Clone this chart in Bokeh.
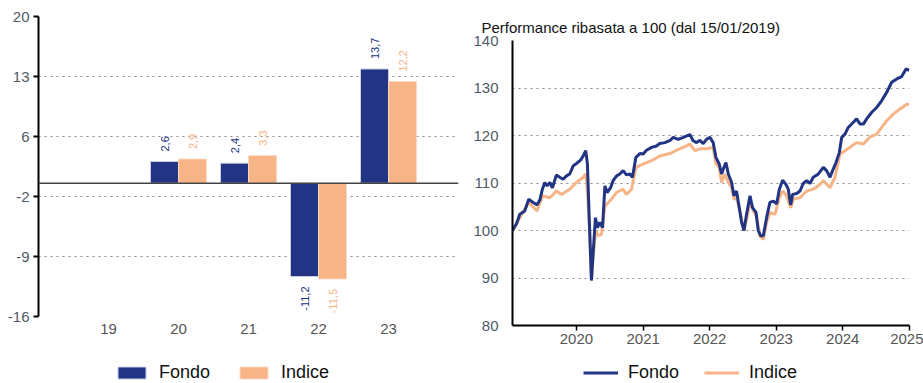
import math
import numpy as np
import pandas as pd
from bokeh.plotting import figure
from bokeh.layouts import row, column
from bokeh.models import (ColumnDataSource, FixedTicker, Range1d, Span, Legend, LegendItem,
                          DatetimeTickFormatter)
from bokeh.core.properties import value
from bokeh.embed import file_html
from bokeh.resources import INLINE

# ---------------- data: annual performance (bar chart) ----------------
bar_years = ["19", "20", "21", "22", "23"]
fondo_bar = [float("nan"), 2.6, 2.4, -11.2, 13.7]
indice_bar = [float("nan"), 2.9, 3.3, -11.5, 12.2]
left_y_ticks = [20, 12.8, 5.6, -1.6, -8.8, -16]
left_y_labels = ["20", "13", "6", "-2", "-9", "-16"]

# ---------------- data: performance rebased to 100 (line chart) ----------------
fondo_dates = ["2019-01-15", "2019-02-06", "2019-02-24", "2019-03-23", "2019-04-14", "2019-05-08",
               "2019-05-30", "2019-06-14", "2019-06-28", "2019-07-11", "2019-07-24", "2019-08-08",
               "2019-08-22", "2019-09-13", "2019-10-01", "2019-10-20", "2019-11-07", "2019-11-25",
               "2019-12-14", "2020-01-01", "2020-01-23", "2020-02-07", "2020-02-21", "2020-03-01",
               "2020-03-14", "2020-03-23", "2020-04-01", "2020-04-14", "2020-04-25", "2020-05-08",
               "2020-05-23", "2020-06-05", "2020-06-17", "2020-07-06", "2020-07-20", "2020-08-08",
               "2020-08-26", "2020-09-13", "2020-10-01", "2020-10-20", "2020-11-03", "2020-11-22",
               "2020-12-14", "2021-01-01", "2021-01-19", "2021-02-16", "2021-03-15", "2021-04-02",
               "2021-04-30", "2021-05-27", "2021-06-15", "2021-07-12", "2021-08-09", "2021-09-14",
               "2021-10-02", "2021-10-21", "2021-11-08", "2021-11-26", "2021-12-15", "2022-01-02",
               "2022-01-20", "2022-02-04", "2022-02-22", "2022-03-07", "2022-03-20", "2022-03-31",
               "2022-04-13", "2022-05-01", "2022-05-14", "2022-05-28", "2022-06-12", "2022-06-25",
               "2022-07-08", "2022-07-22", "2022-08-10", "2022-08-24", "2022-09-12", "2022-09-24",
               "2022-10-07", "2022-10-22", "2022-11-09", "2022-11-27", "2022-12-16", "2023-01-03",
               "2023-01-18", "2023-02-05", "2023-02-23", "2023-03-08", "2023-03-21", "2023-04-01",
               "2023-04-23", "2023-05-11", "2023-05-29", "2023-06-17", "2023-07-05", "2023-07-23",
               "2023-08-20", "2023-09-16", "2023-10-04", "2023-10-23", "2023-11-06", "2023-11-25",
               "2023-12-13", "2023-12-26", "2024-01-13", "2024-01-31", "2024-02-28", "2024-03-17",
               "2024-04-05", "2024-04-23", "2024-05-11", "2024-06-08", "2024-07-05", "2024-08-01",
               "2024-08-29", "2024-09-25", "2024-10-23", "2024-11-19", "2024-12-13", "2024-12-31"]
fondo_values = [100.0, 101.4, 103.4, 104.1, 106.6, 105.9,
                105.4, 106.4, 108.7, 110.1, 109.4, 110.1,
                109.0, 111.7, 111.2, 110.8, 111.5, 111.9,
                113.6, 114.1, 114.8, 115.7, 116.8, 114.0,
                99.2, 89.5, 95.0, 102.7, 100.6, 101.7,
                100.6, 109.4, 108.0, 109.0, 110.5, 111.5,
                111.9, 112.6, 111.7, 111.9, 111.2, 115.4,
                116.2, 116.1, 116.9, 117.5, 117.8, 118.3,
                118.5, 118.9, 119.6, 119.2, 119.6, 120.2,
                118.9, 118.5, 119.0, 118.3, 119.2, 119.6,
                118.5, 115.4, 114.0, 111.9, 113.3, 114.3,
                111.9, 110.1, 107.3, 108.3, 104.8, 101.7,
                100.0, 103.4, 107.3, 104.8, 103.8, 100.0,
                98.9, 98.9, 102.7, 105.9, 106.2, 105.6,
                108.7, 110.6, 109.7, 108.7, 105.4, 107.6,
                107.8, 108.3, 109.9, 110.5, 109.9, 111.2,
                111.9, 113.3, 112.6, 111.2, 112.6, 114.3,
                116.4, 119.6, 120.3, 121.7, 122.8, 123.5,
                122.4, 122.4, 123.5, 124.9, 125.9, 127.3,
                129.1, 131.2, 131.9, 132.4, 134.0, 133.7]

indice_dates = ["2019-01-15", "2019-02-24", "2019-04-14", "2019-05-30", "2019-06-28", "2019-08-08",
                "2019-09-13", "2019-10-11", "2019-11-25", "2020-01-01", "2020-02-07", "2020-02-21",
                "2020-03-01", "2020-03-14", "2020-03-23", "2020-04-01", "2020-04-16", "2020-04-29",
                "2020-05-17", "2020-06-05", "2020-07-02", "2020-08-08", "2020-09-13", "2020-10-01",
                "2020-10-29", "2020-11-22", "2021-01-01", "2021-02-16", "2021-04-02", "2021-05-27",
                "2021-07-03", "2021-08-09", "2021-09-14", "2021-10-12", "2021-11-08", "2021-12-15",
                "2022-01-20", "2022-02-04", "2022-02-22", "2022-03-07", "2022-03-25", "2022-04-13",
                "2022-05-01", "2022-05-14", "2022-05-28", "2022-06-16", "2022-07-08", "2022-07-26",
                "2022-08-10", "2022-08-28", "2022-09-15", "2022-10-03", "2022-10-22", "2022-11-09",
                "2022-11-27", "2022-12-25", "2023-01-18", "2023-02-05", "2023-02-23", "2023-03-21",
                "2023-04-05", "2023-05-11", "2023-06-17", "2023-07-23", "2023-08-29", "2023-09-16",
                "2023-10-23", "2023-11-19", "2023-12-17", "2024-01-13", "2024-02-19", "2024-03-17",
                "2024-04-23", "2024-05-29", "2024-07-05", "2024-08-01", "2024-08-29", "2024-10-04",
                "2024-11-10", "2024-12-17", "2024-12-31"]
indice_values = [100.0, 102.7, 105.9, 104.1, 107.3, 106.9,
                 108.3, 107.6, 108.7, 110.1, 111.2, 111.9,
                 108.3, 99.2, 89.4, 94.3, 100.0, 98.9,
                 99.2, 105.2, 106.2, 108.0, 108.7, 107.6,
                 108.7, 113.3, 114.0, 114.7, 115.7, 116.2,
                 116.9, 117.5, 118.2, 116.8, 117.2, 117.2,
                 117.5, 114.0, 113.3, 110.1, 111.9, 110.1,
                 109.0, 106.6, 106.9, 104.1, 100.0, 103.0,
                 106.2, 104.1, 103.0, 98.9, 98.1, 101.7,
                 103.8, 103.4, 106.9, 108.3, 107.6, 104.8,
                 106.6, 106.9, 108.3, 108.7, 109.7, 110.5,
                 109.0, 111.2, 116.1, 116.8, 117.8, 118.5,
                 118.2, 119.7, 120.3, 121.7, 123.1, 124.5,
                 125.6, 126.6, 126.5]
right_y_ticks = [80, 90, 100, 110, 120, 130, 140]
right_x_years = [2020, 2021, 2022, 2023, 2024, 2025]
series_names = ["Fondo", "Indice"]

FONDO = "#213584"
INDICE = "#F7B486"
TICK_COLOR = "#505a66"
FONT = "Liberation Sans"

# ---------------- left: bar chart ----------------
xpos = [i + 1 for i in range(len(bar_years))]
def fmt(v):
    return "" if math.isnan(v) else f"{v:.1f}".replace(".", ",")

xf = [x - 0.2 for x in xpos]
xi = [x + 0.2 for x in xpos]
src = ColumnDataSource(dict(xf=xf, xi=xi, f=fondo_bar, i=indice_bar))

left = figure(frame_width=420, frame_height=300, x_range=Range1d(0, 6), y_range=Range1d(-16, 20),
              output_backend="svg", toolbar_location=None,
              min_border_left=38, min_border_right=2, min_border_top=16, min_border_bottom=30)
left.outline_line_color = None
left.xgrid.grid_line_color = None
left.ygrid.ticker = FixedTicker(ticks=left_y_ticks)
left.ygrid.grid_line_color = "#8a8a8a"
left.ygrid.grid_line_dash = "dotted"
left.ygrid.grid_line_width = 1

left.vbar(x="xf", top="f", bottom=0, width=0.4, source=src, fill_color=FONDO,
          line_color="#c8cde0", line_width=1)
left.vbar(x="xi", top="i", bottom=0, width=0.4, source=src, fill_color=INDICE,
          line_color="#fbd8c0", line_width=1)
left.add_layout(Span(location=0, dimension="width", line_color="#444444", line_width=1.5))

def label_src(xs, vals, positive):
    keep = [k for k, v in enumerate(vals) if not math.isnan(v) and ((v > 0) == positive)]
    return ColumnDataSource(dict(x=[xs[k] for k in keep], y=[vals[k] for k in keep],
                                 t=[fmt(vals[k]) for k in keep]))

for s, col, align, off in [(label_src(xf, fondo_bar, True), FONDO, "left", -10),
                           (label_src(xf, fondo_bar, False), FONDO, "right", 10),
                           (label_src(xi, indice_bar, True), INDICE, "left", -10),
                           (label_src(xi, indice_bar, False), INDICE, "right", 10)]:
    left.text(x="x", y="y", text="t", source=s, angle=math.pi / 2, text_align=align,
              text_baseline="middle", y_offset=off, text_color=col, text_font_size="11px",
              text_font=value(FONT))

left.yaxis.ticker = FixedTicker(ticks=left_y_ticks)
left.yaxis.major_label_overrides = {t: l for t, l in zip(left_y_ticks, left_y_labels)}
left.yaxis.axis_line_width = 2
left.yaxis.axis_line_color = "black"
left.yaxis.major_tick_line_width = 2
left.yaxis.major_tick_out = 5
left.yaxis.major_tick_in = 0
left.yaxis.minor_tick_line_color = None
left.yaxis.major_label_text_font_size = "15px"
left.yaxis.major_label_text_color = TICK_COLOR
left.yaxis.major_label_text_font = FONT
left.yaxis.major_label_standoff = 4

left.xaxis.ticker = FixedTicker(ticks=xpos)
left.xaxis.major_label_overrides = {x: y for x, y in zip(xpos, bar_years)}
left.xaxis.axis_line_color = None
left.xaxis.major_tick_line_color = None
left.xaxis.major_tick_out = 0
left.xaxis.major_tick_in = 0
left.xaxis.minor_tick_line_color = None
left.xaxis.minor_tick_out = 0
left.xaxis.major_label_text_font_size = "15px"
left.xaxis.major_label_text_color = "#555555"
left.xaxis.major_label_text_font = FONT
left.xaxis.major_label_standoff = 7

# legend strip under the bar chart (its renderers use the same series but lie outside its ranges)
leg_fig_l = figure(frame_width=420, frame_height=37, x_range=Range1d(0, 6), y_range=Range1d(100, 101),
                   output_backend="svg", toolbar_location=None,
                   x_axis_location=None, y_axis_location=None,
                   min_border_left=38, min_border_right=2, min_border_top=0, min_border_bottom=0)
leg_fig_l.outline_line_color = None
leg_fig_l.grid.visible = False
lf = leg_fig_l.vbar(x="xf", top="f", bottom=0, width=0.4, source=src, fill_color=FONDO,
                    line_color="#c8cde0", line_width=1)
li = leg_fig_l.vbar(x="xi", top="i", bottom=0, width=0.4, source=src, fill_color=INDICE,
                    line_color="#fbd8c0", line_width=1)
leg_l = Legend(items=[LegendItem(label=series_names[0], renderers=[lf]),
                      LegendItem(label=series_names[1], renderers=[li])],
               orientation="horizontal", glyph_width=35, glyph_height=15, label_standoff=10,
               spacing=26, padding=0, margin=0, border_line_color=None, background_fill_alpha=0,
               label_text_font_size="18px", label_text_font=FONT, label_text_color="#111111",
               location=(76, 0))
leg_fig_l.add_layout(leg_l)

# ---------------- right: line chart ----------------
fd = pd.to_datetime(fondo_dates)
idt = pd.to_datetime(indice_dates)
right = figure(frame_width=397, frame_height=285, x_axis_type="datetime",
               x_range=Range1d(pd.Timestamp("2019-01-15"), pd.Timestamp("2025-01-01")),
               y_range=Range1d(80, 140), output_backend="svg", toolbar_location=None,
               min_border_left=52, min_border_right=14, min_border_top=40, min_border_bottom=30)
right.outline_line_color = None
right.title.text = "Performance ribasata a 100 (dal 15/01/2019)"
right.title.text_font = FONT
right.title.text_font_size = "15px"
right.title.text_font_style = "normal"
right.title.text_color = "#111111"
right.title.align = "left"
right.title.offset = -31

right.line(idt, indice_values, line_color=INDICE, line_width=3)
right.line(fd, fondo_values, line_color=FONDO, line_width=3)

right.xgrid.grid_line_color = None
right.ygrid.ticker = FixedTicker(ticks=right_y_ticks[1:])
right.ygrid.grid_line_color = "#8a8a8a"
right.ygrid.grid_line_dash = "dotted"

xticks = [pd.Timestamp(f"{y}-01-01").value // 10**6 for y in right_x_years]
right.xaxis.ticker = FixedTicker(ticks=xticks)
right.xaxis.formatter = DatetimeTickFormatter(years="%Y", months="%Y", days="%Y", hours="%Y")
right.xaxis.axis_line_width = 2
right.xaxis.axis_line_color = "black"
right.xaxis.major_tick_out = 5
right.xaxis.major_tick_in = 0
right.xaxis.major_tick_line_width = 1.5
right.xaxis.minor_tick_line_color = None
right.xaxis.minor_tick_out = 0
right.xaxis.major_label_text_font_size = "15px"
right.xaxis.major_label_text_color = "#555555"
right.xaxis.major_label_text_font = FONT
right.xaxis.major_label_standoff = 3

right.yaxis.ticker = FixedTicker(ticks=right_y_ticks)
right.yaxis.axis_line_width = 2
right.yaxis.axis_line_color = "black"
right.yaxis.major_tick_line_color = None
right.yaxis.minor_tick_line_color = None
right.yaxis.major_label_text_font_size = "15px"
right.yaxis.major_label_text_color = TICK_COLOR
right.yaxis.major_label_text_font = FONT
right.yaxis.major_label_standoff = 8

# legend strip under the line chart (its renderers use the same series but lie outside its ranges)
leg_fig_r = figure(frame_width=397, frame_height=28, x_range=Range1d(0, 1), y_range=Range1d(0, 1),
                   output_backend="svg", toolbar_location=None,
                   x_axis_location=None, y_axis_location=None,
                   min_border_left=52, min_border_right=14, min_border_top=0, min_border_bottom=0)
leg_fig_r.outline_line_color = None
leg_fig_r.grid.visible = False
lrf = leg_fig_r.line(fd, fondo_values, line_color=FONDO, line_width=3)
lri = leg_fig_r.line(idt, indice_values, line_color=INDICE, line_width=3)
leg_r = Legend(items=[LegendItem(label=series_names[0], renderers=[lrf]),
                      LegendItem(label=series_names[1], renderers=[lri])],
               orientation="horizontal", glyph_width=35, glyph_height=15, label_standoff=10,
               spacing=25, padding=0, margin=0, border_line_color=None, background_fill_alpha=0,
               label_text_font_size="18px", label_text_font=FONT, label_text_color="#111111",
               location=(71, 0))
leg_fig_r.add_layout(leg_r)

layout = row(column(left, leg_fig_l), column(right, leg_fig_r))
open("out.html", "w").write(file_html(layout, INLINE))
